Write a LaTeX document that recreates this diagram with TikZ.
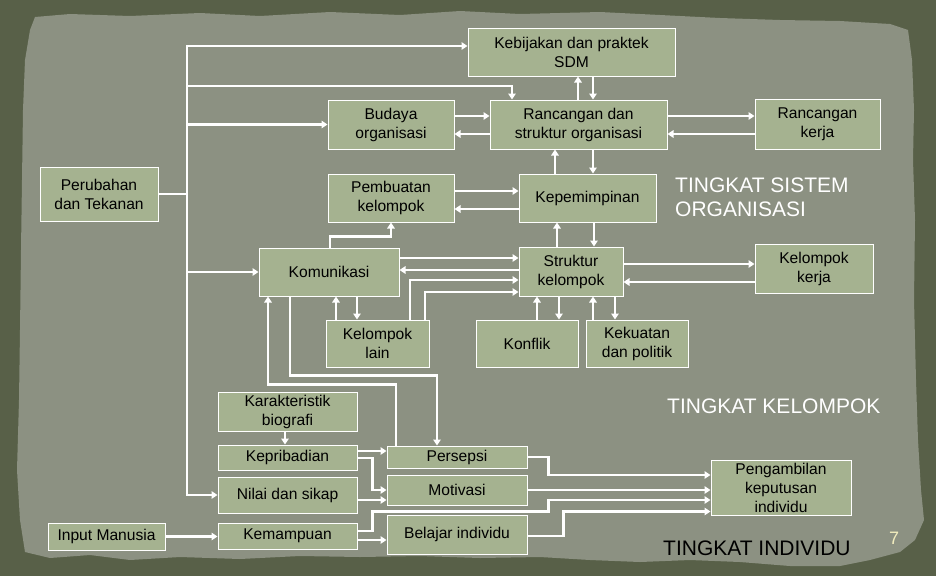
\documentclass[tikz,border=0pt]{standalone}
\usepackage{fontspec}
\setmainfont{Liberation Sans}
\usetikzlibrary{arrows.meta}
\definecolor{outerc}{HTML}{586048}
\definecolor{paperc}{HTML}{8C9182}
\definecolor{boxc}{HTML}{A5B290}
\definecolor{creamc}{HTML}{F2EDBE}
\begin{document}
\begin{tikzpicture}[x=1pt,y=-1pt,
  box/.style={draw=white, line width=1pt, fill=boxc, inner sep=0pt, align=center,
    text=black, font=\fontsize{15.6}{19}\selectfont},
  conn/.style={draw=white, line width=2.6pt},
  arr/.style={conn, -{Triangle[length=6pt,width=7.5pt]}},
  title/.style={inner sep=0pt, text=white, font=\fontsize{21}{24}\selectfont}]
\useasboundingbox (0,0) rectangle (936,576);
\fill[outerc] (0,0) rectangle (936,576);
\fill[paperc] (35,17) -- (70,14) -- (130,16) -- (200,13) -- (260,16) -- (330,12) -- (400,15)
  -- (460,11) -- (520,14) -- (600,12) -- (660,15) -- (720,18) -- (780,20) -- (840,21)
  -- (890,24) -- (908,30) -- (912,60) -- (914,110) -- (913,160) -- (915,220) -- (914,300)
  -- (916,380) -- (918,440) -- (921,490) -- (924,520) -- (915,540) -- (900,552) -- (870,560)
  -- (840,566) -- (790,566) -- (740,562) -- (690,560) -- (640,562) -- (590,560) -- (540,557)
  -- (480,558) -- (420,556) -- (360,557) -- (300,556) -- (240,559) -- (180,557) -- (130,560)
  -- (90,555) -- (50,558) -- (25,552) -- (20,520) -- (17,470) -- (19,400) -- (20,330)
  -- (21,250) -- (22,180) -- (23,110) -- (25,60) -- (30,30) -- cycle;

% boxes
\node[box, minimum width=207pt, minimum height=48pt] (keb) at (571.5,52) {Kebijakan dan praktek\\SDM};
\node[box, minimum width=126pt, minimum height=49pt] (bud) at (391,124.5) {Budaya\\organisasi};
\node[box, minimum width=177pt, minimum height=49pt] (ran) at (578.5,124.5) {Rancangan dan\\struktur organisasi};
\node[box, minimum width=125pt, minimum height=50pt] (rk) at (817.5,124) {Rancangan\\kerja};
\node[box, minimum width=118pt, minimum height=54pt] (per) at (99,194) {Perubahan\\dan Tekanan};
\node[box, minimum width=126pt, minimum height=48pt] (pem) at (391,198) {Pembuatan\\kelompok};
\node[box, minimum width=137pt, minimum height=48pt] (kep) at (587.5,198) {Kepemimpinan};
\node[box, minimum width=140pt, minimum height=48pt] (kom) at (329,272) {Komunikasi};
\node[box, minimum width=104pt, minimum height=49pt] (sk) at (571,271.5) {Struktur\\kelompok};
\node[box, minimum width=118pt, minimum height=49pt] (kk) at (814,268.5) {Kelompok\\kerja};
\node[box, minimum width=103pt, minimum height=47pt] (kl) at (377.5,343.5) {Kelompok\\lain};
\node[box, minimum width=102pt, minimum height=47pt] (kon) at (527,343.5) {Konflik};
\node[box, minimum width=102pt, minimum height=47pt] (kpol) at (637,343.5) {Kekuatan\\dan politik};
\node[box, minimum width=139pt, minimum height=39pt] (kar) at (287.5,411.5) {Karakteristik\\biografi};
\node[box, minimum width=139pt, minimum height=25pt] (kpr) at (287.5,457.5) {Kepribadian};
\node[box, minimum width=140pt, minimum height=22pt] (pers) at (457,457) {Persepsi};
\node[box, minimum width=139pt, minimum height=36pt] (nil) at (287.5,495) {Nilai dan sikap};
\node[box, minimum width=140pt, minimum height=30pt] (mot) at (457,490) {Motivasi};
\node[box, minimum width=117pt, minimum height=27pt] (inp) at (106.5,536.5) {Input Manusia};
\node[box, minimum width=139pt, minimum height=26pt] (kem) at (287.5,536) {Kemampuan};
\node[box, minimum width=140pt, minimum height=39pt] (bel) at (457,534.5) {Belajar individu};
\node[box, minimum width=140pt, minimum height=55pt] (pen) at (781,487.5) {Pengambilan\\keputusan\\individu};

% titles
\node[title, anchor=base west] (ts1) at (675,192) {TINGKAT SISTEM};
\node[title, anchor=base west] (ts2) at (675,216) {ORGANISASI};
\node[title, anchor=base west] (tkl) at (667,413) {TINGKAT KELOMPOK};
\node[title, anchor=base west, text=black] (tin) at (663,555) {TINGKAT INDIVIDU};
\node[inner sep=0pt, anchor=base west, text=creamc, font=\fontsize{18}{20}\selectfont] (pg) at (889,544) {7};

% trunk
\coordinate (tj) at (187,194);
\coordinate (ttop) at (187,46);
\coordinate (tbot) at (187,495);
\coordinate (tr) at (187,86);
\draw[conn] (per.east) -- (tj);
\draw[arr] (tj) -- (ttop) -- (ttop -| keb.west);
\draw[arr] (tj) -- (tbot) -- (nil.west);
\draw[arr] (tr) -| ([xshift=-66.5pt]ran.north);
\draw[arr] (bud.west -| ttop) -- (bud.west);
\draw[arr] (kom.west -| ttop) -- (kom.west);

% system level
\draw[arr] ([xshift=-0.5pt]ran.north) -- ([xshift=-0.5pt]ran.north |- keb.south);
\draw[arr] ([xshift=14.5pt]ran.north |- keb.south) -- ([xshift=14.5pt]ran.north);
\draw[arr] ([yshift=8.5pt]bud.east) -- ([yshift=8.5pt]bud.east -| ran.west);
\draw[arr] ([yshift=-9.5pt]ran.west) -- ([yshift=-9.5pt]ran.west -| bud.east);
\draw[arr] ([yshift=8.5pt]ran.east) -- ([yshift=8.5pt]ran.east -| rk.west);
\draw[arr] ([yshift=-9.5pt]ran.east -| rk.west) -- ([yshift=-9.5pt]ran.east);
\draw[arr] ([xshift=-32.5pt]kep.north) -- ([xshift=-32.5pt]kep.north |- ran.south);
\draw[arr] ([xshift=5.5pt]kep.north |- ran.south) -- ([xshift=5.5pt]kep.north);
\draw[arr] ([yshift=7pt]pem.east) -- ([yshift=7pt]pem.east -| kep.west);
\draw[arr] ([yshift=-11pt]kep.west) -- ([yshift=-11pt]kep.west -| pem.east);
\draw[arr] ([xshift=-14pt]sk.north) -- ([xshift=-14pt]sk.north |- kep.south);
\draw[arr] ([xshift=23pt]sk.north |- kep.south) -- ([xshift=23pt]sk.north);

% group level
\draw[arr] ([xshift=1pt]kom.north) -- ++(0,-11) -| (pem.south);
\draw[arr] ([yshift=14pt]kom.east) -- ([yshift=14pt]kom.east -| sk.west);
\draw[arr] ([yshift=2pt]kom.east -| sk.west) -- ([yshift=2pt]kom.east);
\draw[arr] ([xshift=32.5pt]kl.north) |- ([yshift=-8.5pt]sk.west);
\draw[arr] ([xshift=47.5pt]kl.north) |- ([yshift=-20.5pt]sk.west);
\draw[arr] ([xshift=-41.5pt]kl.north) -- ([xshift=-41.5pt]kl.north |- kom.south);
\draw[arr] ([xshift=-20.5pt]kl.north |- kom.south) -- ([xshift=-20.5pt]kl.north);
\draw[arr] ([yshift=7.5pt]sk.east) -- ([yshift=7.5pt]sk.east -| kk.west);
\draw[arr] ([yshift=-10.5pt]sk.east -| kk.west) -- ([yshift=-10.5pt]sk.east);
\draw[arr] ([xshift=10pt]kon.north) -- ([xshift=10pt]kon.north |- sk.south);
\draw[arr] ([xshift=32pt]kon.north |- sk.south) -- ([xshift=32pt]kon.north);
\draw[arr] ([xshift=-44pt]kpol.north) -- ([xshift=-44pt]kpol.north |- sk.south);
\draw[arr] ([xshift=-22pt]kpol.north |- sk.south) -- ([xshift=-22pt]kpol.north);

% individual level
\draw[arr] ([xshift=-61pt]pers.north) -- ++(0,-61) -| ([xshift=-61pt]kom.south);
\draw[arr] ([xshift=-39pt]kom.south) -- ++(0,79) -| ([xshift=-20pt]pers.north);
\draw[arr] ([xshift=-2.5pt]kar.south) -- ([xshift=-2.5pt]kar.south |- kpr.north);
\draw[arr] ([yshift=6.5pt]kpr.east) -- ([yshift=6.5pt]kpr.east -| pers.west);
\draw[arr] ([yshift=-0.5pt]kpr.east) -- ++(15,0) |- (mot.west);
\draw[arr] ([yshift=-5pt]nil.east) -- ([yshift=-5pt]nil.east -| mot.west);
\draw[arr] (inp.east) -- (inp.east -| kem.west);
\draw[arr] ([yshift=-4pt]kem.east) -- ([yshift=-4pt]kem.east -| bel.west);
\draw[arr] ([yshift=5pt]kem.east) -- ++(15,0) -- ++(0,-19.5) -- ++(176,0) |- ([yshift=-12.5pt]pen.west);
\draw[arr] ([yshift=-1.5pt]bel.east) -- ++(36,0) |- ([yshift=-24pt]pen.west);
\draw[arr] (mot.east) -- (mot.east -| pen.west);
\draw[arr] (pers.east) -- ++(21,0) |- ([yshift=12.5pt]pen.west);
\end{tikzpicture}
\end{document}
